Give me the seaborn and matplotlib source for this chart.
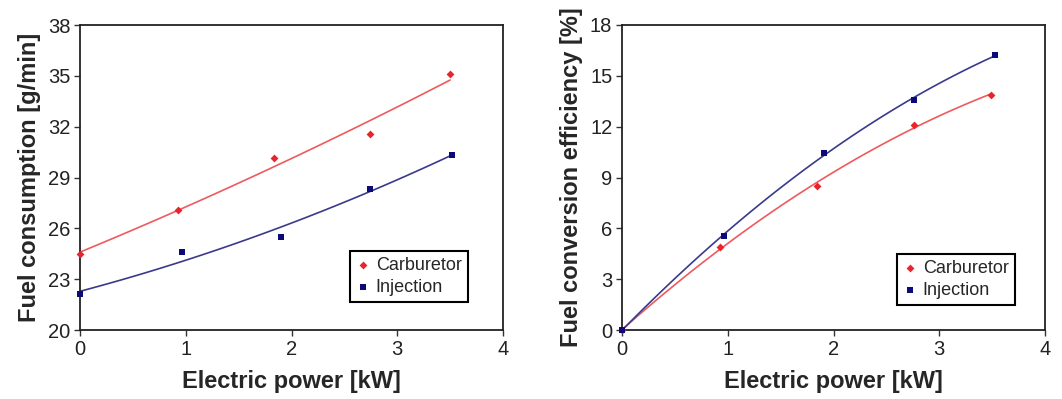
import numpy as np
import pandas as pd
import matplotlib
matplotlib.use("Agg")
import matplotlib.pyplot as plt
import seaborn as sns

# ---- data ----
carb_power = [0.0, 0.93, 1.83, 2.74, 3.50]
carb_fuel = [24.5, 27.1, 30.15, 31.55, 35.1]
inj_power = [0.0, 0.96, 1.90, 2.74, 3.52]
inj_fuel = [22.1, 24.6, 25.5, 28.35, 30.35]

carb_power_eff = [0.0, 0.93, 1.84, 2.76, 3.49]
carb_eff = [0.0, 4.88, 8.5, 12.1, 13.87]
inj_power_eff = [0.0, 0.96, 1.91, 2.76, 3.53]
inj_eff = [0.0, 5.55, 10.45, 13.6, 16.23]

series_names = ["Carburetor", "Injection"]
x_ticks = [0, 1, 2, 3, 4]
fuel_ticks = [20, 23, 26, 29, 32, 35, 38]
eff_ticks = [0, 3, 6, 9, 12, 15, 18]

RED = "#e8252b"
RED_LINE = "#ee5a5e"
NAVY = "#0a0a78"
NAVY_LINE = "#3a3a8c"

sns.set_style("ticks")
plt.rcParams["font.family"] = ["Liberation Sans", "DejaVu Sans"]

fig = plt.figure(figsize=(10.62, 3.99), dpi=100)
ax1 = fig.add_axes([80 / 1062, 1 - 330 / 399, 423 / 1062, 305 / 399])
ax2 = fig.add_axes([622 / 1062, 1 - 330 / 399, 423 / 1062, 305 / 399])


def fit_df(x, y, deg=2):
    c = np.polyfit(x, y, deg)
    xs = np.linspace(min(x), max(x), 100)
    return pd.DataFrame({"x": xs, "y": np.polyval(c, xs)})


def draw(ax, cx, cy, ix, iy):
    fc = fit_df(cx, cy)
    fi = fit_df(ix, iy)
    sns.lineplot(data=fc, x="x", y="y", ax=ax, color=RED_LINE, lw=1.2, legend=False)
    sns.lineplot(data=fi, x="x", y="y", ax=ax, color=NAVY_LINE, lw=1.2, legend=False)
    dc = pd.DataFrame({"x": cx, "y": cy})
    di = pd.DataFrame({"x": ix, "y": iy})
    sns.scatterplot(data=dc, x="x", y="y", ax=ax, marker="D", s=16, color=RED,
                    edgecolor=RED, linewidth=0, label=series_names[0], zorder=5, clip_on=False)
    sns.scatterplot(data=di, x="x", y="y", ax=ax, marker="s", s=24, color=NAVY,
                    edgecolor=NAVY, linewidth=0, label=series_names[1], zorder=5, clip_on=False)


draw(ax1, carb_power, carb_fuel, inj_power, inj_fuel)
draw(ax2, carb_power_eff, carb_eff, inj_power_eff, inj_eff)

for ax, yt, ylab, anchor in [(ax1, fuel_ticks, "Fuel consumption [g/min]", (0.917, 0.092)),
                             (ax2, eff_ticks, "Fuel conversion efficiency [%]", (0.929, 0.082))]:
    ax.set_xlim(0, 4)
    ax.set_ylim(yt[0], yt[-1])
    ax.set_xticks(x_ticks)
    ax.set_yticks(yt)
    ax.tick_params(axis="both", labelsize=14.5, length=4, width=1, color="#333333",
                   direction="out", pad=3, labelcolor="#222222")
    ax.set_xlabel("Electric power [kW]", fontsize=17, fontweight="bold", labelpad=8)
    ax.set_ylabel(ylab, fontsize=17, fontweight="bold", labelpad=5)
    for s in ax.spines.values():
        s.set_visible(True)
        s.set_linewidth(1.3)
        s.set_color("#222222")
    leg = ax.legend(loc="lower right", bbox_to_anchor=anchor, fontsize=13,
                    frameon=True, fancybox=False, edgecolor="black", framealpha=1,
                    handletextpad=0.3, handlelength=0.8, borderpad=0.35,
                    labelspacing=0.25, markerscale=1.0, borderaxespad=0)
    leg.get_frame().set_linewidth(1.5)

fig.savefig("out.png", dpi=100)
